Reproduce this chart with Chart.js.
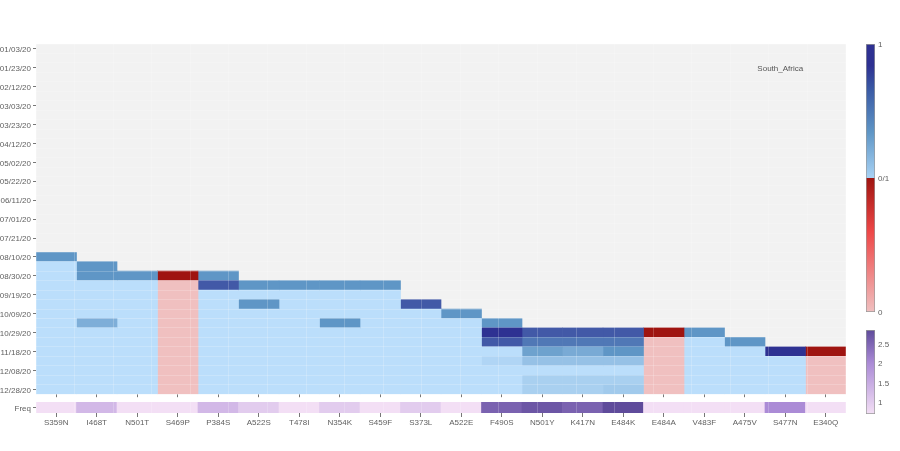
<!DOCTYPE html>
<html>
<head>
<meta charset="utf-8">
<title>South_Africa</title>
<script src="https://cdn.jsdelivr.net/npm/chart.js@4"></script>
<style>
  html, body { margin: 0; background: #fff; overflow: hidden; }
  canvas { position: absolute; }
</style>
</head>
<body>
<canvas id="heatChart" width="846" height="401" style="left:0px;top:0px"></canvas>
<canvas id="freqChart" width="846" height="45" style="left:0px;top:390px"></canvas>
<canvas id="barValue" width="34" height="284" style="left:866px;top:36px"></canvas>
<canvas id="barFreq" width="34" height="100" style="left:866px;top:322px"></canvas>
<script>
const dates = ["01/03/20","01/13/20","01/23/20","02/02/20","02/12/20","02/22/20","03/03/20","03/13/20","03/23/20","04/02/20",
  "04/12/20","04/22/20","05/02/20","05/12/20","05/22/20","06/01/20","06/11/20","06/21/20","07/01/20","07/11/20",
  "07/21/20","07/31/20","08/10/20","08/20/20","08/30/20","09/09/20","09/19/20","09/29/20","10/09/20","10/19/20",
  "10/29/20","11/08/20","11/18/20","11/28/20","12/08/20","12/18/20","12/28/20"];

const mutations = ["S359N","I468T","N501T","S469P","P384S","A522S","T478I","N354K","S459F","S373L",
  "A522E","F490S","N501Y","K417N","E484K","E484A","V483F","A475V","S477N","E340Q"];

// columns drawn with the red scale
const redColumns = ["S469P","E484A","E340Q"];

// row index of the first filled cell in each column
const firstRow = [22,23,24,24,24,25,25,25,25,27,28,29,30,30,30,30,30,31,32,32];

// cell values from the first filled row down to 12/28/20
const S359N = [0.5,0,0,0,0,0,0,0,0,0,0,0,0,0,0];
const I468T = [0.5,0.5,0,0,0,0,0.33,0,0,0,0,0,0,0];
const N501T = [0.5,0,0,0,0,0,0,0,0,0,0,0,0];
const S469P = [1,0,0,0,0,0,0,0,0,0,0,0,0];
const P384S = [0.5,0.8,0,0,0,0,0,0,0,0,0,0,0];
const A522S = [0.5,0,0.5,0,0,0,0,0,0,0,0,0];
const T478I = [0.5,0,0,0,0,0,0,0,0,0,0,0];
const N354K = [0.5,0,0,0,0.5,0,0,0,0,0,0,0];
const S459F = [0.5,0,0,0,0,0,0,0,0,0,0,0];
const S373L = [0.8,0,0,0,0,0,0,0,0,0];
const A522E = [0.5,0,0,0,0,0,0,0,0];
const F490S = [0.5,1,0.8,0,0.06,0,0,0];
const N501Y = [0.8,0.65,0.42,0.2,0,0.1,0.1];
const K417N = [0.8,0.65,0.36,0.2,0,0.1,0.1];
const E484K = [0.8,0.65,0.5,0.2,0,0.1,0.14];
const E484A = [1,0,0,0,0,0,0];
const V483F = [0.5,0,0,0,0,0,0];
const A475V = [0.5,0,0,0,0,0];
const S477N = [1,0,0,0,0];
const E340Q = [1,0,0,0,0];
const columns = [S359N,I468T,N501T,S469P,P384S,A522S,T478I,N354K,S459F,S373L,A522E,F490S,N501Y,K417N,E484K,E484A,V483F,A475V,S477N,E340Q];

const freqValues = [0.7,1.3,0.7,0.7,1.3,1,0.7,1,0.7,1,0.7,2.55,2.7,2.55,2.85,0.7,0.7,0.7,2,0.7];

const valueTicks = [0,0.5,1];
const valueTickLabels = ["0","0/1","1"];
const freqTicks = [1,1.5,2,2.5];

const blueStops = [[0,"#bbdefb"],[0.5,"#5f96c6"],[1,"#2e3192"]];
const redCellStops = [[0,"#f0c0c0"],[1,"#9f1410"]];
const freqStops = [[0.7,"#f3dff5"],[2,"#ab8bd6"],[2.85,"#5f4b9b"]];

const textColor = "#5f5f5f";
const font = { family: "'Liberation Sans', Arial, sans-serif", size: 8 };
const gridLine = "rgba(255,255,255,0.2)";

function rgb(hex) {
  return [1,3,5].map(i => parseInt(hex.slice(i, i + 2), 16));
}

function colorFor(stops, v) {
  for (let i = 1; i < stops.length; i++) {
    if (v <= stops[i][0]) {
      const t = (v - stops[i-1][0]) / (stops[i][0] - stops[i-1][0]);
      const a = rgb(stops[i-1][1]), b = rgb(stops[i][1]);
      return `rgb(${a.map((c, k) => Math.round(c + (b[k] - c) * t)).join(",")})`;
    }
  }
  return stops[stops.length - 1][1];
}

const plotBackground = {
  id: "plotBackground",
  beforeDatasetsDraw(chart) {
    const a = chart.chartArea;
    chart.ctx.fillStyle = "#f2f2f2";
    chart.ctx.fillRect(a.left, a.top, a.width, a.height);
  }
};

const countryLabel = {
  id: "countryLabel",
  afterDraw(chart) {
    const ctx = chart.ctx;
    ctx.save();
    ctx.font = `${font.size}px ${font.family}`;
    ctx.fillStyle = "#555";
    ctx.textAlign = "center";
    ctx.textBaseline = "middle";
    ctx.fillText("South_Africa", chart.scales.x.getPixelForValue(18) - 5, chart.scales.y.getPixelForValue(2) + 1);
    ctx.restore();
  }
};

// white lines along the cell edges, on a hidden axis of their own
function edgeAxis(axis, max) {
  return {
    type: "linear", axis: axis, min: 0, max: max, position: axis === "x" ? "bottom" : "left",
    ticks: { display: false, stepSize: 1, autoSkip: false },
    border: { display: false },
    grid: { color: gridLine, lineWidth: 1, drawTicks: false, z: 1 },
    afterFit(s) { if (axis === "x") s.height = 0; else s.width = 0; }
  };
}

new Chart(document.getElementById("heatChart"), {
  type: "bar",
  data: {
    labels: mutations,
    datasets: mutations.map((m, c) => ({
      label: m,
      data: columns[c].map((v, k) => {
        const r = firstRow[c] + k;
        return { x: m, y: [r - 0.5, r + 0.5], v: v };
      }),
      backgroundColor: ctx => colorFor(redColumns.includes(m) ? redCellStops : blueStops, ctx.raw.v),
      borderWidth: 0,
      barPercentage: 1,
      categoryPercentage: 1,
      grouped: false
    }))
  },
  options: {
    responsive: false,
    animation: false,
    layout: { padding: { top: 44 } },
    plugins: { legend: { display: false }, tooltip: { enabled: false } },
    scales: {
      x: {
        type: "category",
        border: { display: false },
        grid: { offset: false, drawOnChartArea: false, tickLength: 3, color: "#777" },
        ticks: { callback: () => "", padding: 0 },
        afterFit(s) { s.height = 4; }
      },
      y: {
        type: "linear", reverse: true, min: -0.5, max: 36.5,
        border: { display: false },
        grid: { drawOnChartArea: false, tickLength: 3, color: "#777" },
        ticks: { autoSkip: false, padding: 2, labelOffset: 1, color: textColor, font: font, callback: v => dates[v] },
        afterBuildTicks(s) { s.ticks = dates.map((d, i) => ({ value: i })).filter(t => t.value % 2 === 0); },
        afterFit(s) { s.width = 36; }
      },
      xEdges: edgeAxis("x", mutations.length),
      yEdges: edgeAxis("y", dates.length)
    }
  },
  plugins: [plotBackground, countryLabel]
});

new Chart(document.getElementById("freqChart"), {
  type: "bar",
  data: {
    labels: mutations,
    datasets: [{
      label: "Freq",
      data: freqValues.map((v, c) => ({ x: mutations[c], y: [-0.5, 0.5], v: v })),
      backgroundColor: ctx => colorFor(freqStops, ctx.raw.v),
      borderWidth: 0,
      barPercentage: 1,
      categoryPercentage: 1
    }]
  },
  options: {
    responsive: false,
    animation: false,
    layout: { padding: { top: 12 } },
    plugins: { legend: { display: false }, tooltip: { enabled: false } },
    scales: {
      x: {
        type: "category",
        border: { display: false },
        grid: { offset: false, drawOnChartArea: false, tickLength: 4, color: "#777" },
        ticks: { color: textColor, font: font, padding: 1, maxRotation: 0, autoSkip: false },
        afterFit(s) { s.height = 22; }
      },
      y: {
        type: "linear", min: -0.5, max: 0.5,
        border: { display: false },
        grid: { drawOnChartArea: false, tickLength: 3, color: "#777" },
        ticks: { padding: 2, labelOffset: 1, color: textColor, font: font, callback: () => "Freq" },
        afterBuildTicks(s) { s.ticks = [{ value: 0 }]; },
        afterFit(s) { s.width = 36; }
      },
      xEdges: edgeAxis("x", mutations.length)
    }
  }
});

// colour bars: one tall bar filled with the scale's gradient
function colorBar(id, min, max, ticks, labels, gradientStops, top) {
  new Chart(document.getElementById(id), {
    type: "bar",
    data: {
      labels: ["bar"],
      datasets: [{
        data: [[min, max]],
        backgroundColor(ctx) {
          const a = ctx.chart.chartArea;
          if (!a) return "#fff";
          const g = ctx.chart.ctx.createLinearGradient(0, a.bottom, 0, a.top);
          gradientStops.forEach(s => g.addColorStop(s[0], s[1]));
          return g;
        },
        borderColor: "#999",
        borderWidth: 1,
        borderSkipped: false,
        barPercentage: 1,
        categoryPercentage: 1
      }]
    },
    options: {
      responsive: false,
      animation: false,
      layout: { padding: { top: top, bottom: 8 } },
      plugins: { legend: { display: false }, tooltip: { enabled: false } },
      scales: {
        x: { display: false },
        y: {
          type: "linear", position: "right", min: min, max: max,
          border: { display: false },
          grid: { display: false, drawTicks: false },
          ticks: { autoSkip: false, padding: 3, labelOffset: 1, color: textColor, font: font, callback: v => labels[ticks.indexOf(v)] },
          afterBuildTicks(s) { s.ticks = ticks.map(v => ({ value: v })); },
          afterFit(s) { s.width = 25; }
        }
      }
    }
  });
}

// red half then blue half with a hard break at 0/1
const valueGradient = [[0,"#f0c0c0"],[0.3,"#ee4747"],[0.5,"#9f1410"],[0.5,"#a8d2f4"],
  [0.67,"#5f96c6"],[0.83,"#3a5aa5"],[0.92,"#2e3192"],[1,"#2e3192"]];
colorBar("barValue", 0, 1, valueTicks, valueTickLabels, valueGradient, 8);

const freqMin = freqStops[0][0], freqMax = freqStops[2][0];
const freqGradient = freqStops.map(s => [(s[0] - freqMin) / (freqMax - freqMin), s[1]]);
colorBar("barFreq", freqMin, freqMax, freqTicks, freqTicks.map(String), freqGradient, 8);
</script>
</body>
</html>
